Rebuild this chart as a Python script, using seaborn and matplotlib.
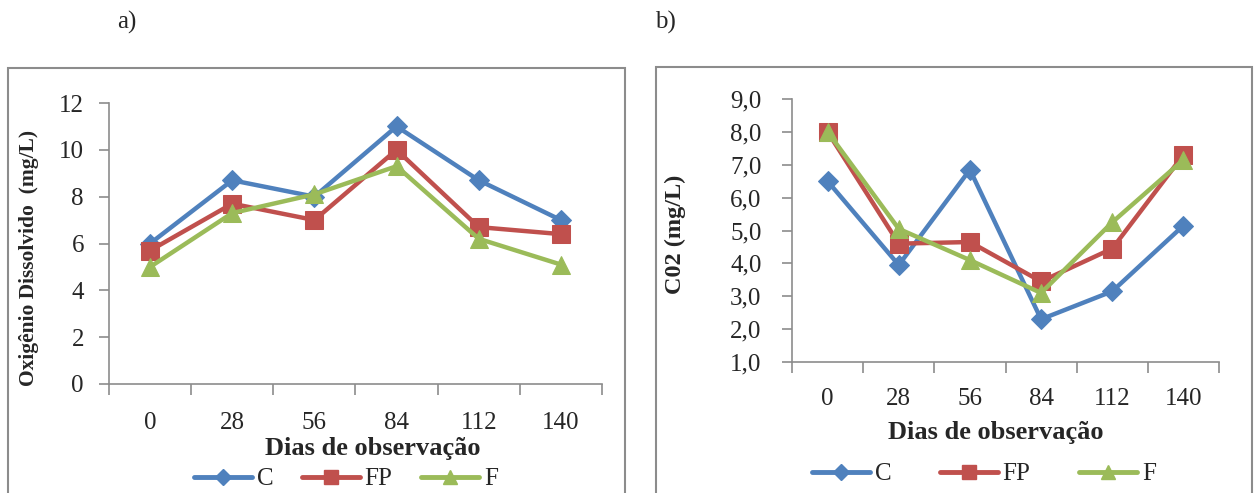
import matplotlib
matplotlib.use("Agg")
import matplotlib.pyplot as plt
from matplotlib.patches import Rectangle
from matplotlib.lines import Line2D
import seaborn as sns
import pandas as pd

days = ["0", "28", "56", "84", "112", "140"]

od_C = [6.0, 8.7, 8.0, 11.0, 8.7, 7.0]
od_FP = [5.7, 7.7, 7.0, 10.0, 6.7, 6.4]
od_F = [5.0, 7.3, 8.1, 9.3, 6.2, 5.1]

co2_C = [6.5, 3.95, 6.85, 2.3, 3.15, 5.15]
co2_FP = [8.0, 4.6, 4.65, 3.45, 4.45, 7.3]
co2_F = [8.0, 5.05, 4.1, 3.1, 5.25, 7.15]

series_names = ["C", "FP", "F"]
colors = {"C": "#4F81BD", "FP": "#C0504D", "F": "#9BBB59"}
markers = {"C": "D", "FP": "s", "F": "^"}
msizes = {"C": 10.5, "FP": 12.5, "F": 13}
leg_msizes = {"C": 8.5, "FP": 9.5, "F": 10}

sns.set_theme(style="white")
plt.rcParams["font.family"] = ["Liberation Serif", "DejaVu Serif"]

W, H = 1254, 493
fig = plt.figure(figsize=(W / 100, H / 100), dpi=100)

def fx(px):
    return px / W

def fy(py):
    return 1 - py / H

AX_GRAY = "#8c8c8c"

# panel frames
fig.patches.append(Rectangle((fx(8), -0.02), fx(625 - 8), fy(68) + 0.02,
                             transform=fig.transFigure, fill=False, edgecolor=AX_GRAY, lw=1.5))
fig.patches.append(Rectangle((fx(656), -0.02), fx(1252 - 656), fy(67) + 0.02,
                             transform=fig.transFigure, fill=False, edgecolor=AX_GRAY, lw=1.5))

fig.text(fx(127), fy(22), "a)", ha="center", va="center", fontsize=18)
fig.text(fx(665), fy(22), "b)", ha="center", va="center", fontsize=18)

def draw(ax, vals, ylim, yticks, yfmt, ylabel, ylabel_size, ypad, xpad):
    idx = list(range(len(days)))
    rows = []
    for name, v in zip(series_names, vals):
        for i, y in zip(idx, v):
            rows.append({"x": i, "y": y, "s": name})
    df = pd.DataFrame(rows)
    for name in series_names:
        sub = df[df["s"] == name]
        sns.lineplot(data=sub, x="x", y="y", ax=ax, color=colors[name], marker=markers[name],
                     markersize=msizes[name], markeredgecolor=colors[name], linewidth=3.2,
                     label=name, legend=False)
    ax.set_xlim(-0.5, 5.5)
    ax.set_ylim(*ylim)
    ax.set_yticks(yticks)
    ax.set_yticklabels([yfmt(t) for t in yticks])
    ax.set_xticks([i - 0.5 for i in range(7)])
    ax.set_xticklabels([])
    ax.set_xticks(idx, minor=True)
    ax.set_xticklabels(days, minor=True)
    ax.tick_params(axis="x", which="major", length=8, color=AX_GRAY, width=1.2, direction="out", bottom=True)
    ax.tick_params(axis="x", which="minor", length=0, pad=xpad, labelsize=18)
    ax.tick_params(axis="y", length=7, color=AX_GRAY, width=1.2, direction="out", left=True,
                   labelsize=18, pad=ypad)
    for sp in ["top", "right"]:
        ax.spines[sp].set_visible(False)
    for sp in ["left", "bottom"]:
        ax.spines[sp].set_color(AX_GRAY)
        ax.spines[sp].set_linewidth(1.2)
    ax.set_xlabel("")
    ax.set_ylabel(ylabel, fontsize=ylabel_size, fontweight="bold")
    ax.patch.set_alpha(0)

L = (109, 602, 103, 384)
ax1 = fig.add_axes([fx(L[0]), fy(L[3]), fx(L[1] - L[0]), fy(L[2]) - fy(L[3])])
draw(ax1, [od_C, od_FP, od_F], (0, 12), [0, 2, 4, 6, 8, 10, 12], lambda t: f"{t:g}",
     "Oxigênio Dissolvido  (mg/L)", 15.5, 11, 20)
ax1.yaxis.set_label_coords((39 - L[0]) / (L[1] - L[0]), (384 - 258) / (384 - 103))

R = (792, 1219, 99, 362)
ax2 = fig.add_axes([fx(R[0]), fy(R[3]), fx(R[1] - R[0]), fy(R[2]) - fy(R[3])])
draw(ax2, [co2_C, co2_FP, co2_F], (1, 9), [1, 2, 3, 4, 5, 6, 7, 8, 9],
     lambda t: f"{t:.1f}".replace(".", ","), "C02 (mg/L)", 17.5, 15, 19)
ax2.yaxis.set_label_coords((686 - R[0]) / (R[1] - R[0]), (362 - 234) / (362 - 99))

fig.text(fx(373), fy(448), "Dias de observação", ha="center", va="center", fontsize=19, fontweight="bold")
fig.text(fx(996), fy(433), "Dias de observação", ha="center", va="center", fontsize=19, fontweight="bold")

handles = [Line2D([0], [0], color=colors[n], marker=markers[n], markersize=leg_msizes[n], lw=3.5)
           for n in series_names]
fig.legend(handles, series_names, ncol=3, loc="center", bbox_to_anchor=(fx(346), fy(479)),
           frameon=False, fontsize=18, handlelength=2.3, handletextpad=0.2, columnspacing=1.15,
           borderpad=0, borderaxespad=0)
fig.legend(handles, series_names, ncol=3, loc="center", bbox_to_anchor=(fx(984), fy(474)),
           frameon=False, fontsize=18, handlelength=2.3, handletextpad=0.2, columnspacing=1.95,
           borderpad=0, borderaxespad=0)

fig.savefig("out.png", dpi=100)
